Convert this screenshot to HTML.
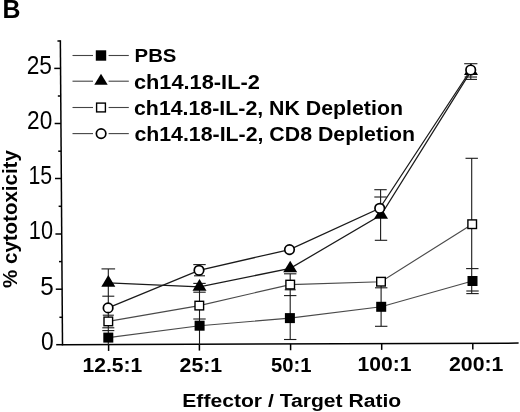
<!DOCTYPE html><html><head><meta charset="utf-8"><style>html,body{margin:0;padding:0;background:#fff;}svg{display:block;will-change:transform;filter:blur(0.3px);}text{font-family:"Liberation Sans",sans-serif;fill:#000;}</style></head><body>
<svg width="520" height="412" viewBox="0 0 520 412">
<rect width="520" height="412" fill="#fff"/>
<g stroke="#000" stroke-width="1.5" fill="none" stroke-linecap="butt">
<line x1="60.35" y1="40.3" x2="62.5" y2="345.3"/>
<line x1="61.8" y1="344.8" x2="518.6" y2="343.1"/>
<line x1="54.25" y1="68.4" x2="60.55" y2="68.4"/>
<line x1="54.64" y1="123.5" x2="60.94" y2="123.5"/>
<line x1="55.02" y1="178.5" x2="61.32" y2="178.5"/>
<line x1="55.42" y1="234" x2="61.72" y2="234"/>
<line x1="55.8" y1="289.2" x2="62.1" y2="289.2"/>
<line x1="56.2" y1="344.7" x2="62.5" y2="344.7"/>
<line x1="57.45" y1="41" x2="60.35" y2="41"/>
<line x1="57.84" y1="96" x2="60.74" y2="96"/>
<line x1="58.23" y1="151.2" x2="61.13" y2="151.2"/>
<line x1="58.62" y1="206.3" x2="61.52" y2="206.3"/>
<line x1="59.01" y1="261.6" x2="61.91" y2="261.6"/>
<line x1="59.4" y1="317.3" x2="62.3" y2="317.3"/>
<line x1="108.6" y1="344.63" x2="108.6" y2="350.93"/>
<line x1="199.4" y1="344.29" x2="199.4" y2="350.59"/>
<line x1="290.6" y1="343.95" x2="290.6" y2="350.25"/>
<line x1="381.7" y1="343.61" x2="381.7" y2="349.91"/>
<line x1="472.8" y1="343.27" x2="472.8" y2="349.57"/>
</g>
<g stroke="#1a1a1a" stroke-width="1.1" fill="none">
<line x1="108.3" y1="268.9" x2="108.3" y2="345"/>
<line x1="199.5" y1="264.6" x2="199.5" y2="276"/>
<line x1="199.5" y1="283" x2="199.5" y2="345"/>
<line x1="290.2" y1="273.8" x2="290.2" y2="339.5"/>
<line x1="380.6" y1="189.7" x2="380.6" y2="240.3"/>
<line x1="381.1" y1="281.7" x2="381.1" y2="326.3"/>
<line x1="470.8" y1="63.7" x2="470.8" y2="79.4"/>
<line x1="471.7" y1="158.3" x2="471.7" y2="294"/>
<line x1="101.5" y1="268.9" x2="115.1" y2="268.9"/>
<line x1="102.3" y1="296.2" x2="114.3" y2="296.2"/>
<line x1="102.8" y1="315.2" x2="113.8" y2="315.2"/>
<line x1="102.3" y1="327.8" x2="114.3" y2="327.8"/>
<line x1="102.3" y1="330.6" x2="114.3" y2="330.6"/>
<line x1="193.3" y1="264.6" x2="205.7" y2="264.6"/>
<line x1="194" y1="275.8" x2="205" y2="275.8"/>
<line x1="193.3" y1="283.4" x2="205.7" y2="283.4"/>
<line x1="193.3" y1="292.2" x2="205.7" y2="292.2"/>
<line x1="193.3" y1="319" x2="205.7" y2="319"/>
<line x1="284" y1="273.8" x2="296.4" y2="273.8"/>
<line x1="284.7" y1="289.8" x2="295.7" y2="289.8"/>
<line x1="284" y1="295.6" x2="296.4" y2="295.6"/>
<line x1="284" y1="339.5" x2="296.4" y2="339.5"/>
<line x1="374.3" y1="189.7" x2="386.7" y2="189.7"/>
<line x1="374.3" y1="197" x2="386.7" y2="197"/>
<line x1="374.8" y1="240.3" x2="387.2" y2="240.3"/>
<line x1="375" y1="287.8" x2="387.4" y2="287.8"/>
<line x1="375" y1="326.3" x2="387.4" y2="326.3"/>
<line x1="464.2" y1="63.7" x2="477.4" y2="63.7"/>
<line x1="464.6" y1="77" x2="477" y2="77"/>
<line x1="464.6" y1="79.4" x2="477" y2="79.4"/>
<line x1="465.5" y1="158.3" x2="477.9" y2="158.3"/>
<line x1="466.1" y1="268.6" x2="478.5" y2="268.6"/>
<line x1="466.3" y1="291" x2="478.7" y2="291"/>
<line x1="466.3" y1="293.6" x2="478.7" y2="293.6"/>
</g>
<g stroke="#4a4a4a" stroke-width="1.15" fill="none">
<polyline points="108.3,337.6 199.6,325.7 289.9,318.1 381.2,306.8 472.5,281"/>
<polyline points="108.3,321.4 199.3,305.6 290.2,284.6 381,281.7 472.2,224.2"/>
</g>
<g stroke="#1a1a1a" stroke-width="1.25" fill="none">
<polyline points="108.3,282.8 199.5,286.8 290.2,268.4 381,215 471,71.2"/>
<polyline points="108.1,307.9 199,270.3 289.5,249.6 379.7,208.3 470.7,70"/>
</g>
<rect x="103.3" y="332.6" width="10" height="10" fill="#000"/>
<rect x="194.6" y="320.7" width="10" height="10" fill="#000"/>
<rect x="284.9" y="313.1" width="10" height="10" fill="#000"/>
<rect x="376.2" y="301.8" width="10" height="10" fill="#000"/>
<rect x="467.5" y="276" width="10" height="10" fill="#000"/>
<rect x="104" y="317.1" width="8.6" height="8.6" fill="#fff" stroke="#000" stroke-width="1.4"/>
<rect x="195" y="301.3" width="8.6" height="8.6" fill="#fff" stroke="#000" stroke-width="1.4"/>
<rect x="285.9" y="280.3" width="8.6" height="8.6" fill="#fff" stroke="#000" stroke-width="1.4"/>
<rect x="376.7" y="277.4" width="8.6" height="8.6" fill="#fff" stroke="#000" stroke-width="1.4"/>
<rect x="467.9" y="219.9" width="8.6" height="8.6" fill="#fff" stroke="#000" stroke-width="1.4"/>
<polygon points="108.3,275.07 115.3,286.67 101.3,286.67" fill="#000"/>
<polygon points="199.5,279.07 206.5,290.67 192.5,290.67" fill="#000"/>
<polygon points="290.2,260.67 297.2,272.27 283.2,272.27" fill="#000"/>
<polygon points="381,207.27 388,218.87 374,218.87" fill="#000"/>
<polygon points="471,63.47 478,75.07 464,75.07" fill="#000"/>
<circle cx="108.1" cy="307.9" r="4.75" fill="#fff" stroke="#000" stroke-width="1.7"/>
<circle cx="199" cy="270.3" r="4.75" fill="#fff" stroke="#000" stroke-width="1.7"/>
<circle cx="289.5" cy="249.6" r="4.75" fill="#fff" stroke="#000" stroke-width="1.7"/>
<circle cx="379.7" cy="208.3" r="4.75" fill="#fff" stroke="#000" stroke-width="1.7"/>
<circle cx="470.7" cy="70" r="4.75" fill="#fff" stroke="#000" stroke-width="1.7"/>
<g stroke="#444" stroke-width="1.1">
<line x1="72.5" y1="55.5" x2="93" y2="55.5"/><line x1="108.6" y1="55.5" x2="128.8" y2="55.5"/>
<line x1="72.5" y1="81.2" x2="93" y2="81.2"/><line x1="108.6" y1="81.2" x2="128.8" y2="81.2"/>
<line x1="72.5" y1="107.5" x2="93" y2="107.5"/><line x1="108.6" y1="107.5" x2="128.8" y2="107.5"/>
<line x1="72.5" y1="133.6" x2="93" y2="133.6"/><line x1="108.6" y1="133.6" x2="128.8" y2="133.6"/>
</g>
<rect x="95.8" y="50.3" width="10.4" height="10.4" fill="#000"/>
<polygon points="101,73.87 107.7,84.87 94.3,84.87" fill="#000"/>
<rect x="96.6" y="103.1" width="8.8" height="8.8" fill="#fff" stroke="#000" stroke-width="1.4"/>
<circle cx="101.1" cy="133.6" r="4.75" fill="#fff" stroke="#000" stroke-width="1.7"/>
<text x="2.5" y="18.4" font-weight="bold" font-size="24.86" textLength="17.95" lengthAdjust="spacingAndGlyphs">B</text>
<text x="134.6" y="61.8" font-weight="bold" font-size="19.14" textLength="41.81" lengthAdjust="spacingAndGlyphs">PBS</text>
<text x="133.9" y="88.6" font-weight="bold" font-size="19.87" textLength="125.97" lengthAdjust="spacingAndGlyphs">ch14.18-IL-2</text>
<text x="134" y="114.8" font-weight="bold" font-size="20" textLength="268.93" lengthAdjust="spacingAndGlyphs">ch14.18-IL-2, NK Depletion</text>
<text x="134.4" y="140.6" font-weight="bold" font-size="20.13" textLength="280.57" lengthAdjust="spacingAndGlyphs">ch14.18-IL-2, CD8 Depletion</text>
<text x="82.5" y="372.3" font-weight="bold" font-size="20.86" textLength="59.82" lengthAdjust="spacingAndGlyphs">12.5:1</text>
<text x="179.6" y="372" font-weight="bold" font-size="20.43" textLength="42.62" lengthAdjust="spacingAndGlyphs">25:1</text>
<text x="271" y="371.5" font-weight="bold" font-size="20.86" textLength="40.47" lengthAdjust="spacingAndGlyphs">50:1</text>
<text x="357.5" y="371.2" font-weight="bold" font-size="21" textLength="54.03" lengthAdjust="spacingAndGlyphs">100:1</text>
<text x="449" y="370.8" font-weight="bold" font-size="20.86" textLength="54.44" lengthAdjust="spacingAndGlyphs">200:1</text>
<text x="182.3" y="406.8" font-weight="bold" font-size="18.67" textLength="218.9" lengthAdjust="spacingAndGlyphs">Effector / Target Ratio</text>
<text x="26.7" y="73.8" font-weight="normal" font-size="25.14" textLength="25.27" lengthAdjust="spacingAndGlyphs">25</text>
<text x="27.1" y="128.8" font-weight="normal" font-size="25.14" textLength="25.16" lengthAdjust="spacingAndGlyphs">20</text>
<text x="28.4" y="184" font-weight="normal" font-size="25" textLength="23.7" lengthAdjust="spacingAndGlyphs">15</text>
<text x="28.8" y="239.2" font-weight="normal" font-size="25.29" textLength="24.17" lengthAdjust="spacingAndGlyphs">10</text>
<text x="40.2" y="295" font-weight="normal" font-size="25.29" textLength="13.48" lengthAdjust="spacingAndGlyphs">5</text>
<text x="41" y="350" font-weight="normal" font-size="24.86" textLength="12.68" lengthAdjust="spacingAndGlyphs">0</text>
<text transform="translate(16.6,287.9) rotate(-90)" font-weight="bold" font-size="20.67" textLength="137.7" lengthAdjust="spacingAndGlyphs">% cytotoxicity</text>
</svg></body></html>
